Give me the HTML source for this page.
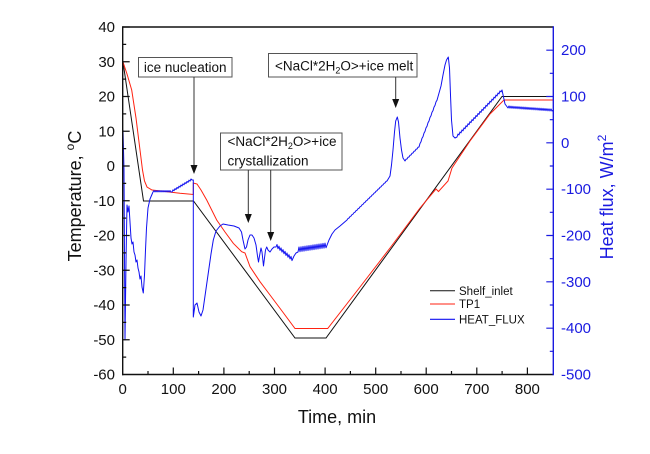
<!DOCTYPE html>
<html><head><meta charset="utf-8"><style>
html,body{margin:0;padding:0;background:#fff;}
svg{display:block;}
text{font-family:"Liberation Sans",Arial,sans-serif;}
</style></head><body>
<svg width="650" height="454" viewBox="0 0 650 454" xmlns="http://www.w3.org/2000/svg">
<rect width="650" height="454" fill="#fff"/>

<!-- Shelf_inlet black -->
<path d="M123,62 L143.5,201 L193.5,201 L295,338 L326,338 L502,96.5 L553,96.5" fill="none" stroke="#111" stroke-width="1"/>
<!-- TP1 red -->
<path d="M123,62 L127,74 L131.7,90 L136,118 L140,150 L142.5,170 L144.5,181 L147,187 L152,190 L165,191.5 L180,193.3 L193.3,194.5 L193.3,183 L197,184 L201,190 L206.7,200 L216.7,220 L225,232 L233.3,243.3 L241.7,251.7 L245,253 L250,266.7 L260,281.7 L270,295 L282,311 L295,328.5 L327.7,328.5 L360,287 L390,248 L420,208 L436,189 L438.5,191.5 L448,181 L452,168 L470,141 L490,114 L504,100 L553,100" fill="none" stroke="#f21" stroke-width="1"/>
<!-- HEAT_FLUX blue -->
<path d="M123,130 L124,170 L125,340 L126,262 L127,205 L128,212 L129,206 L130,222 L131,238 L132,244 L133,242 L134,252 L135,255 L136,262 L137,260 L138,268 L139,272 L140,279 L141,276 L142,287 L143.3,293 L144.5,275 L145.5,250 L146.5,228 L148,208 L150,199 L153,192
l1,-1.5 l1,1.5 l1,-1.5 l1,1.5 l1,-1.5 l1,1.5 l1,-1.5 l1,1.5 l1,-1.5 l1,1.5 l1,-1.5 l1,1.5 l1,-1.5 l1,1.5 l1,-1.5 l1,1.5 l1,-1.5 l1,1.5
L172,192
l1,-2.2 l1,1 l1,-2.2 l1,1 l1,-2.2 l1,1 l1,-2.2 l1,1 l1,-2.2 l1,1 l1,-2.2 l1,1 l1,-2.2 l1,1 l1,-2.2 l1,1 l1,-2.2 l1,1 l1,-2.2 l1,1
L193.3,180 L193.3,317 L195,305 L197,303 L199,312 L201,316 L203,310 L205,296 L207,282 L209,268 L211,254 L213.3,240 L216,231 L220,226 L223,224 L228,225 L234,226 L239,228 L241.5,232 L243,240 L245,249 L246.5,247 L248,240 L250,235 L252,235 L254,238 L256,245 L257.5,256 L258.5,262 L259.5,256 L261,248 L262,252 L263.5,266 L264.5,258 L265.5,250 L266.7,247 L268,250 L270,252 L272,249 L274,247 L276,247
l1,-2.5 l1,4.2 l1,-2.5 l1,4.2 l1,-2.5 l1,4.2 l1,-2.5 l1,4.2 l1,-2.5 l1,4.2 l1,-2.5 l1,4.2 l1,-2.5 l1,4.2 l1,-2.5 l1,4.2
L294,256 L296,253 L298,252
l1,-5 l1,4.7 l1,-5 l1,4.7 l1,-5 l1,4.7 l1,-5 l1,4.7 l1,-5 l1,4.7 l1,-5 l1,4.7 l1,-5 l1,4.7
l1,-5 l1,4.7 l1,-5 l1,4.7 l1,-5 l1,4.7 l1,-5 l1,4.7 l1,-5 l1,4.7 l1,-5 l1,4.7 l1,-5 l1,4.7
L329,240 L332,234 L335,230 L340,226 L347,220
l1,-1.5 l1,-.45 l1,-1.5 l1,-.45 l1,-1.5 l1,-.45 l1,-1.5 l1,-.45 l1,-1.5 l1,-.45 l1,-1.5 l1,-.45 l1,-1.5 l1,-.45 l1,-1.5 l1,-.45 l1,-1.5 l1,-.45 l1,-1.5 l1,-.45
l1,-1.5 l1,-.45 l1,-1.5 l1,-.45 l1,-1.5 l1,-.45 l1,-1.5 l1,-.45 l1,-1.5 l1,-.45 l1,-1.5 l1,-.45 l1,-1.5 l1,-.45 l1,-1.5 l1,-.45 l1,-1.5 l1,-.45 l1,-1.5 l1,-.45
L390,176 L391.5,165 L393,150 L394.5,132 L395.7,121 L397.3,117 L398.5,122 L400,138 L401.5,150 L403,158 L405,161
l1,-1.8 l1,-.2 l1,-1.8 l1,-.2 l1,-1.8 l1,-.2 l1,-1.8 l1,-.2 l1,-1.8 l1,-.2 l1,-1.8 l1,-.2 l1,-1.8 l1,-.2
l1,-3.5 l1,-1.7 l1,-3.5 l1,-1.7 l1,-3.5 l1,-1.7 l1,-3.5 l1,-1.7 l1,-3.5 l1,-1.7 l1,-3.5 l1,-1.7 l1,-3.5 l1,-1.7 l1,-3.5 l1,-1.7 l1,-3.5 l1,-1.7
L441,86 L443,75 L445,65 L446.5,60 L448.3,57 L449.5,68 L450.5,95 L451.5,120 L453,136 L455,138 L457,137
l1,-3 l1,.95 l1,-3 l1,.95 l1,-3 l1,.95 l1,-3 l1,.95 l1,-3 l1,.95 l1,-3 l1,.95 l1,-3 l1,.95 l1,-3 l1,.95 l1,-3 l1,.95 l1,-3 l1,.95 l1,-3 l1,.95
l1,-3 l1,.95 l1,-3 l1,.95 l1,-3 l1,.95 l1,-3 l1,.95 l1,-3 l1,.95 l1,-3 l1,.95 l1,-3 l1,.95 l1,-3 l1,.95 l1,-3 l1,.95 l1,-3 l1,.95 l1,-3 l1,.95
L502,90 L503.5,97 L505,104 L508,108
l1,-2 l1,2.14 l1,-2 l1,2.14 l1,-2 l1,2.14 l1,-2 l1,2.14 l1,-2 l1,2.14 l1,-2 l1,2.14 l1,-2 l1,2.14 l1,-2 l1,2.14 l1,-2 l1,2.14 l1,-2 l1,2.14 l1,-2 l1,2.14
l1,-2 l1,2.14 l1,-2 l1,2.14 l1,-2 l1,2.14 l1,-2 l1,2.14 l1,-2 l1,2.14 l1,-2 l1,2.14 l1,-2 l1,2.14 l1,-2 l1,2.14 l1,-2 l1,2.14 l1,-2 l1,2.14 l1,-2 l1,2.14
L553,110"
fill="none" stroke="#1010f0" stroke-width="1" stroke-linejoin="round"/>

<!-- frame -->
<line x1="122.7" y1="27" x2="553.3" y2="27" stroke="#111" stroke-width="1.4"/>
<line x1="122.7" y1="26.3" x2="122.7" y2="375.2" stroke="#111" stroke-width="1.4"/>
<line x1="122" y1="374.5" x2="553.3" y2="374.5" stroke="#111" stroke-width="1.4"/>
<line x1="553.3" y1="26.3" x2="553.3" y2="375.2" stroke="#1a1ae0" stroke-width="1.4"/>

<g stroke="#111" stroke-width="1.2">
<path d="M122.7,27h7 M122.7,61.75h7 M122.7,96.5h7 M122.7,131.25h7 M122.7,166h7 M122.7,200.75h7 M122.7,235.5h7 M122.7,270.25h7 M122.7,305h7 M122.7,339.75h7"/>
<path d="M122.7,44.4h3.5 M122.7,79.1h3.5 M122.7,113.9h3.5 M122.7,148.6h3.5 M122.7,183.4h3.5 M122.7,218.1h3.5 M122.7,252.9h3.5 M122.7,287.6h3.5 M122.7,322.4h3.5 M122.7,357.1h3.5"/>
<path d="M173.3,374.5v-7 M223.9,374.5v-7 M274.5,374.5v-7 M325.1,374.5v-7 M375.7,374.5v-7 M426.2,374.5v-7 M476.8,374.5v-7 M527.4,374.5v-7"/>
<path d="M148,374.5v-3.5 M198.6,374.5v-3.5 M249.2,374.5v-3.5 M299.8,374.5v-3.5 M350.4,374.5v-3.5 M401,374.5v-3.5 M451.5,374.5v-3.5 M502.1,374.5v-3.5"/>
</g>
<g stroke="#1a1ae0" stroke-width="1.2">
<path d="M553.3,328.2h-7 M553.3,281.8h-7 M553.3,235.5h-7 M553.3,189.2h-7 M553.3,142.8h-7 M553.3,96.5h-7 M553.3,50.2h-7"/>
<path d="M553.3,351.3h-3.5 M553.3,305h-3.5 M553.3,258.7h-3.5 M553.3,212.3h-3.5 M553.3,166h-3.5 M553.3,119.7h-3.5 M553.3,73.3h-3.5"/>
</g>

<g font-size="15" fill="#111" text-anchor="end">
<text x="115" y="32">40</text>
<text x="115" y="66.75">30</text>
<text x="115" y="101.5">20</text>
<text x="115" y="136.25">10</text>
<text x="115" y="171">0</text>
<text x="115" y="205.75">-10</text>
<text x="115" y="240.5">-20</text>
<text x="115" y="275.25">-30</text>
<text x="115" y="310">-40</text>
<text x="115" y="344.75">-50</text>
<text x="115" y="379.5">-60</text>
</g>
<g font-size="15" fill="#111" text-anchor="middle">
<text x="122.7" y="394">0</text>
<text x="173.3" y="394">100</text>
<text x="223.9" y="394">200</text>
<text x="274.5" y="394">300</text>
<text x="325.1" y="394">400</text>
<text x="375.7" y="394">500</text>
<text x="426.2" y="394">600</text>
<text x="476.8" y="394">700</text>
<text x="527.4" y="394">800</text>
</g>
<g font-size="15" fill="#1a1ae0">
<text x="561" y="379.5">-500</text>
<text x="561" y="333.2">-400</text>
<text x="561" y="286.8">-300</text>
<text x="561" y="240.5">-200</text>
<text x="561" y="194.2">-100</text>
<text x="561" y="147.8">0</text>
<text x="561" y="101.5">100</text>
<text x="561" y="55.2">200</text>
</g>

<text x="337" y="423" font-size="18" fill="#111" text-anchor="middle">Time, min</text>
<text transform="translate(81,196) rotate(-90)" font-size="18" fill="#111" text-anchor="middle">Temperature, <tspan font-size="12" dy="-7">o</tspan><tspan dy="7">C</tspan></text>
<text transform="translate(613,197) rotate(-90)" font-size="18" fill="#1a1ae0" text-anchor="middle">Heat flux, W/m<tspan font-size="12" dy="-7">2</tspan></text>

<line x1="430" y1="290.7" x2="455" y2="290.7" stroke="#111" stroke-width="1"/>
<line x1="430" y1="304" x2="455" y2="304" stroke="#f21" stroke-width="1"/>
<line x1="430" y1="319.3" x2="455" y2="319.3" stroke="#1010f0" stroke-width="1.1"/>
<g font-size="11.5" fill="#111">
<text x="459" y="294.8">Shelf_inlet</text>
<text x="459" y="308.1">TP1</text>
<text x="459" y="323.4">HEAT_FLUX</text>
</g>

<g fill="#fff" stroke="#555" stroke-width="1">
<rect x="138.5" y="57.5" width="93.5" height="19.5"/>
<rect x="220.5" y="133" width="121.5" height="37"/>
<rect x="268.5" y="53.5" width="148.5" height="23.5"/>
</g>
<g font-size="13.5" fill="#111">
<text x="185.2" y="72" text-anchor="middle">ice nucleation</text>
<text x="227.5" y="146">&lt;NaCl*2H<tspan font-size="9" dy="3">2</tspan><tspan dy="-3">O&gt;+ice</tspan></text>
<text x="227.5" y="165.5">crystallization</text>
<text x="275" y="70.5">&lt;NaCl*2H<tspan font-size="9" dy="3">2</tspan><tspan dy="-3">O&gt;+ice melt</tspan></text>
</g>
<g stroke="#333" stroke-width="1">
<line x1="194" y1="77" x2="194" y2="166"/>
<line x1="248.3" y1="170" x2="248.3" y2="215"/>
<line x1="270.7" y1="170" x2="270.7" y2="233"/>
<line x1="395.7" y1="77" x2="395.7" y2="100"/>
</g>
<g fill="#111">
<path d="M190.5,165 L197.5,165 L194,174 Z"/>
<path d="M244.8,214 L251.8,214 L248.3,223 Z"/>
<path d="M267.2,232 L274.2,232 L270.7,241 Z"/>
<path d="M392.2,99 L399.2,99 L395.7,108 Z"/>
</g>
</svg>
</body></html>
